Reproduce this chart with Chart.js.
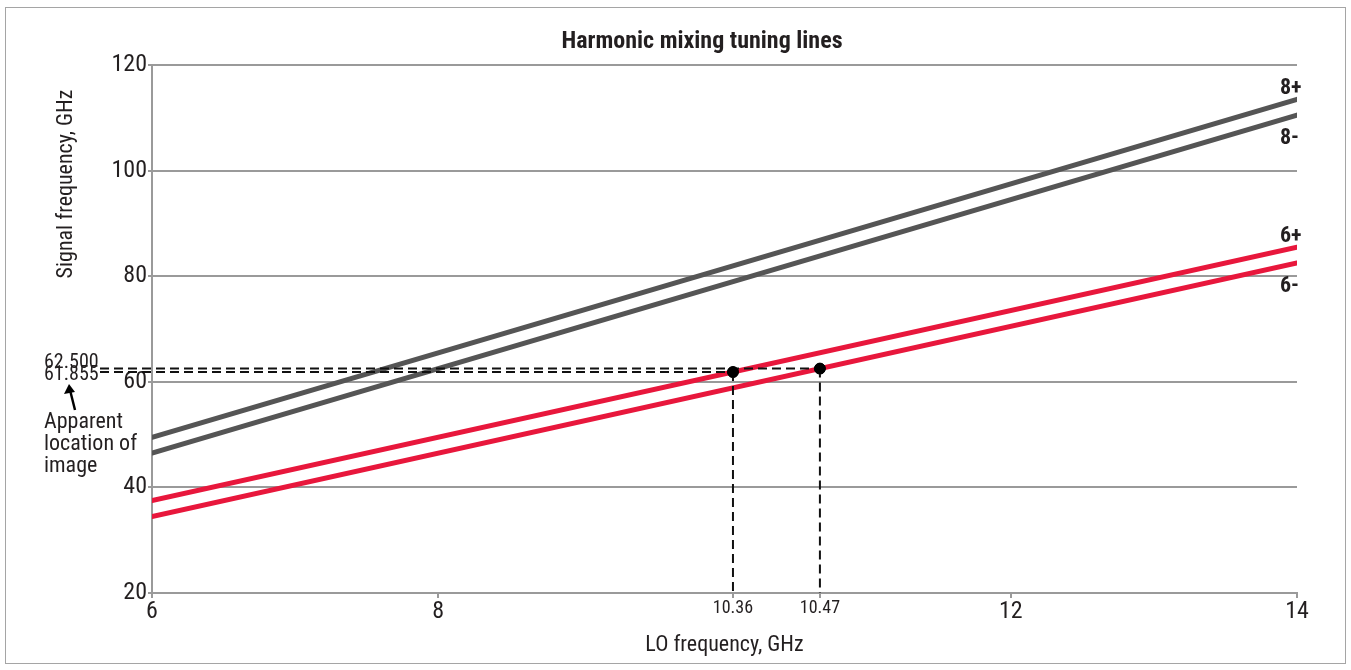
<!DOCTYPE html>
<html>
<head>
<meta charset="utf-8">
<title>Harmonic mixing tuning lines</title>
<script src="https://cdn.jsdelivr.net/npm/chart.js@4.4.1/dist/chart.umd.min.js"></script>
<style>
  html, body { margin: 0; padding: 0; background: #fff; }
  #wrap { width: 1351px; height: 670px; position: relative; }
</style>
</head>
<body>
<div id="wrap"><canvas id="chart"></canvas></div>
<script>
var FONT = "'Liberation Sans Narrow', 'Roboto Condensed', 'DejaVu Sans Condensed', Roboto, sans-serif";
var INK = '#231f20';

// LO sweep end points and signal frequency of each tuning line at those points
var loFreq = [6, 14];
var tuningNames = ['8+', '8-', '6+', '6-'];
var tune8plus = [49.5, 113.5];
var tune8minus = [46.5, 110.5];
var tune6plus = [37.5, 85.5];
var tune6minus = [34.5, 82.5];

// image responses: signal frequency, which tuning line they sit on, LO reading
var imageFreq = [61.855, 62.5];
var imageLine = ['6+', '6-'];
var imageLO = ['10.36', '10.47'];

var xTicks = [6, 8, 12, 14];
var yTicks = [20, 40, 60, 80, 100, 120];

var lineValues = {
    '8+': tune8plus, '8-': tune8minus,
    '6+': tune6plus, '6-': tune6minus
};
var lineColors = { '8+': '#555555', '8-': '#555555', '6+': '#e8173c', '6-': '#e8173c' };

// where a response frequency falls on its tuning line
function loOnLine(name, f) {
    var v = lineValues[name];
    return loFreq[0] + (f - v[0]) / (v[1] - v[0]) * (loFreq[1] - loFreq[0]);
}
var imageX = imageFreq.map(function(f, i) { return loOnLine(imageLine[i], f); });

var datasets = tuningNames.map(function(name) {
    return {
        label: name,
        data: loFreq.map(function(x, i) { return { x: x, y: lineValues[name][i] }; }),
        borderColor: lineColors[name],
        borderWidth: 5,
        borderCapStyle: 'round',
        pointRadius: 0,
        showLine: true,
        order: 2
    };
});
datasets.push({
    label: 'image',
    data: imageFreq.map(function(f, i) { return { x: imageX[i], y: f }; }),
    backgroundColor: '#000',
    borderColor: '#000',
    pointRadius: 5.5,
    showLine: false,
    order: 0
});

var decor = {
    id: 'decor',
    beforeDraw: function(chart) {
        var c = chart.ctx;
        c.save();
        c.fillStyle = '#fff';
        c.fillRect(0, 0, chart.width, chart.height);
        c.strokeStyle = '#a5a5a5';
        c.lineWidth = 1;
        c.strokeRect(5.5, 7.5, 1340, 656);
        c.restore();
    },
    afterDatasetsDraw: function(chart) {
        var c = chart.ctx;
        var xs = chart.scales.x, ys = chart.scales.y;
        var area = chart.chartArea;
        c.save();

        // dashed guides from the left labels to each response and down to the axis
        c.strokeStyle = '#111';
        c.lineWidth = 2;
        c.setLineDash([9, 5]);
        imageFreq.forEach(function(f, i) {
            var px = xs.getPixelForValue(imageX[i]);
            var py = ys.getPixelForValue(f);
            c.beginPath();
            c.moveTo(100, py);
            c.lineTo(px, py);
            c.stroke();
            c.beginPath();
            c.moveTo(px, py);
            c.lineTo(px, area.bottom);
            c.stroke();
        });
        c.setLineDash([]);

        // redraw the dots over the guides
        c.fillStyle = '#000';
        imageFreq.forEach(function(f, i) {
            c.beginPath();
            c.arc(xs.getPixelForValue(imageX[i]), ys.getPixelForValue(f), 5.5, 0, Math.PI * 2);
            c.fill();
        });

        // frequency readouts
        c.fillStyle = INK;
        c.textAlign = 'left';
        c.textBaseline = 'middle';
        c.font = '20px ' + FONT;
        var order = imageFreq.map(function(f, i) { return i; }).sort(function(a, b) { return imageFreq[b] - imageFreq[a]; });
        order.forEach(function(i, k) {
            var py = ys.getPixelForValue(imageFreq[i]);
            c.fillText(imageFreq[i].toFixed(3), 44, py + (k === 0 ? -6 : 3));
        });

        // arrow to the image readout
        var lowY = ys.getPixelForValue(Math.min.apply(null, imageFreq));
        var ax0 = 75, ay0 = lowY + 38, ax1 = 69, ay1 = lowY + 12;
        c.strokeStyle = '#000';
        c.lineWidth = 2.5;
        c.beginPath();
        c.moveTo(ax0, ay0);
        c.lineTo(ax1 + 1, ay1 + 6);
        c.stroke();
        c.beginPath();
        c.moveTo(ax1, ay1);
        c.lineTo(ax1 - 5, ay1 + 10);
        c.lineTo(ax1 + 6, ay1 + 8);
        c.closePath();
        c.fillStyle = '#000';
        c.fill();

        c.fillStyle = INK;
        c.font = '22px ' + FONT;
        ['Apparent', 'location of', 'image'].forEach(function(t, k) {
            c.fillText(t, 44, lowY + 50 + k * 22);
        });

        // tuning line names at the right end
        c.font = 'bold 22px ' + FONT;
        c.textAlign = 'left';
        tuningNames.forEach(function(name) {
            var v = lineValues[name];
            var py = ys.getPixelForValue(v[1]);
            var up = name.charAt(1) === '+';
            c.fillText(name, 1280, py + (up ? -11 : 23));
        });

        // title and y axis title
        c.font = 'bold 24px ' + FONT;
        c.textAlign = 'center';
        c.fillText('Harmonic mixing tuning lines', 702, 42);

        c.font = '22px ' + FONT;
        c.translate(66, 184);
        c.rotate(-Math.PI / 2);
        c.fillText('Signal frequency, GHz', 0, 0);
        c.restore();
    }
};

var ctx = document.getElementById('chart').getContext('2d');
var chart = new Chart(ctx, {
    type: 'scatter',
    data: { datasets: datasets },
    options: {
        responsive: true,
        maintainAspectRatio: false,
        animation: false,
        layout: { padding: { top: 65, right: 54, bottom: 0, left: 0 } },
        plugins: {
            legend: { display: false },
            title: { display: false },
            tooltip: { enabled: false }
        },
        scales: {
            x: {
                type: 'linear',
                min: 6,
                max: 14,
                afterBuildTicks: function(scale) {
                    var vals = xTicks.concat(imageX).sort(function(a, b) { return a - b; });
                    scale.ticks = vals.map(function(v) { return { value: v }; });
                },
                afterFit: function(scale) { scale.height = 77; },
                grid: {
                    drawOnChartArea: false,
                    drawTicks: true,
                    tickLength: 5,
                    color: '#9a9a9a',
                    lineWidth: 2
                },
                border: { color: '#9a9a9a', width: 2 },
                ticks: {
                    autoSkip: false,
                    maxRotation: 0,
                    padding: 0,
                    color: INK,
                    font: function(c) {
                        var v = c.tick ? c.tick.value : 0;
                        return { family: FONT, size: imageX.indexOf(v) >= 0 ? 18 : 24 };
                    },
                    callback: function(v) {
                        var k = imageX.indexOf(v);
                        return k >= 0 ? imageLO[k] : String(v);
                    }
                },
                title: {
                    display: true,
                    text: 'LO frequency, GHz',
                    color: INK,
                    font: { family: FONT, size: 22 },
                    padding: { top: 2, bottom: 11 }
                }
            },
            y: {
                type: 'linear',
                min: 20,
                max: 120,
                afterBuildTicks: function(scale) {
                    scale.ticks = yTicks.map(function(v) { return { value: v }; });
                },
                afterFit: function(scale) { scale.width = 152; },
                grid: {
                    drawOnChartArea: true,
                    drawTicks: true,
                    tickLength: 4,
                    color: '#9a9a9a',
                    lineWidth: 2
                },
                border: { color: '#9a9a9a', width: 2 },
                ticks: {
                    padding: 1,
                    color: INK,
                    font: { family: FONT, size: 24 }
                }
            }
        }
    },
    plugins: [decor]
});
</script>
</body>
</html>
